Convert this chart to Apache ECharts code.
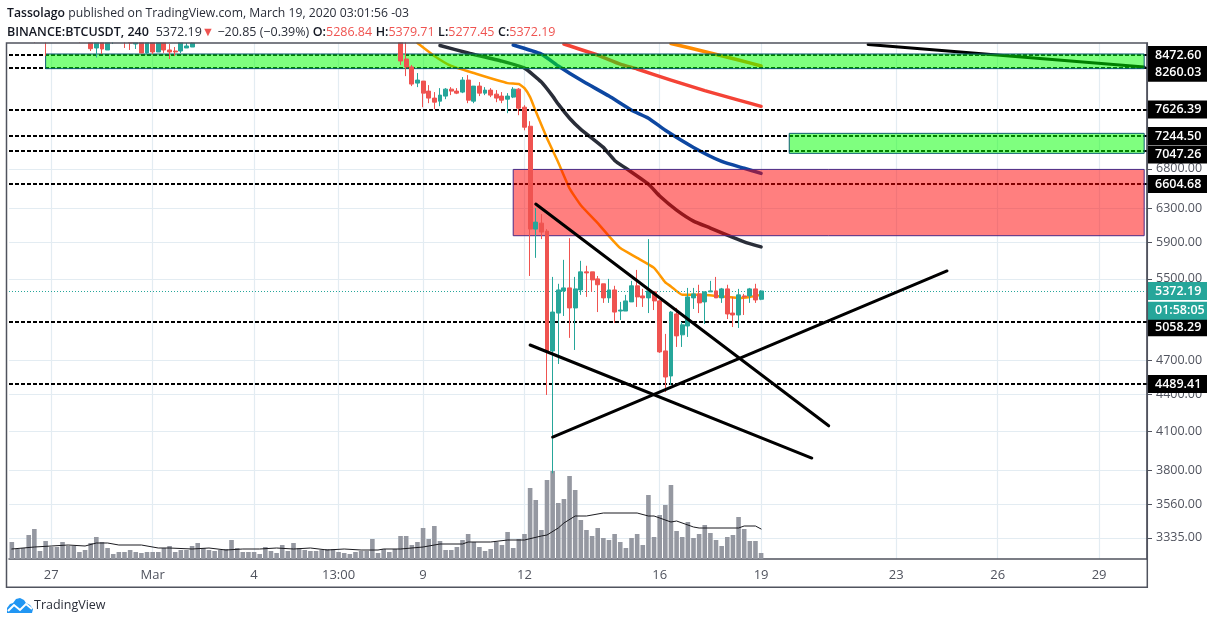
<!DOCTYPE html>
<html><head><meta charset="utf-8">
<style>html,body{margin:0;padding:0;background:#fff}#c{width:1220px;height:624px}</style>
<script src="https://cdn.jsdelivr.net/npm/echarts@6/dist/echarts.min.js"></script>
</head><body><div id="c"></div>
<script>
const BAR_COUNT = 202;
const xTickLabels = {7:'27',25:'Mar',43:'4',58:'13:00',73:'9',91:'12',115:'16',133:'19',157:'23',175:'26',193:'29'};
const priceTicks = [6800,6300,5900,5500,4700,4400,4100,3800,3560,3335];
const levels = [8472.60,8260.03,7626.39,7244.50,7047.26,6604.68,5058.29,4489.41];
const lastPrice = 5372.19;
const countdownText = '01:58:05';
const countdownAnchor = 5170;

// [bar, open, close, low, high]; bars above the visible range were not readable
const candles = [
[4,8900,8800,8671,8950],[6,8900,8800,8457,8950],[12,8900,8800,8671,8950],
[14,8800,8576,8538,8850],[15,8588,8800,8432,8850],[16,8800,8571,8489,8850],[17,8555,8800,8555,8850],
[18,8800,8850,8654,8900],[20,8850,8780,8588,8900],[21,8800,8671,8555,8850],[22,8654,8800,8571,8850],
[23,8800,8506,8506,8850],[24,8506,8800,8489,8850],[25,8800,8522,8489,8850],[26,8522,8800,8522,8850],
[27,8800,8555,8506,8850],[28,8555,8522,8407,8654],[29,8538,8522,8457,8604],[30,8538,8700,8506,8750],
[31,8588,8621,8588,8671],[32,8604,8671,8604,8720],
[69,8900,8375,8311,9000],[70,8407,8279,8134,8688],[71,8279,8010,7979,8311],[72,8025,8072,7963,8182],
[73,8056,7871,7660,8056],[74,7902,7796,7720,7994],[75,7796,7735,7631,7887],[76,7750,7841,7675,7948],
[77,7826,7932,7780,7948],[78,7932,7902,7841,7963],[79,7902,7871,7856,7948],[80,7887,8072,7871,8119],
[81,8072,7765,7720,8150],[82,7750,7979,7720,7979],[83,7979,7871,7826,8041],[84,7871,7917,7841,7963],
[85,7917,7841,7811,7948],[86,7856,7796,7735,7917],[87,7826,7765,7720,7887],[88,7780,7826,7572,7871],
[89,7811,7932,7796,7963],[90,7932,7645,7543,7948],[91,7660,7370,7326,7690],[92,7384,6054,5530,7456],
[93,6054,6136,5727,6305],[94,6124,6019,5938,6232],[95,6030,4785,4395,6054],[96,4785,5158,3778,5520],
[97,5148,5383,4666,5447],[98,5373,5404,5119,5705],[99,5404,5199,4907,5949],[100,5199,5394,4794,5520],
[101,5383,5574,5332,5694],[102,5574,5563,5311,5640],[103,5574,5488,5363,5574],[104,5499,5437,5158,5530],
[105,5447,5301,5250,5447],[106,5301,5383,5250,5499],[107,5383,5158,5050,5426],[108,5168,5178,5079,5260],
[109,5168,5270,5168,5332],[110,5260,5426,5260,5478],[111,5426,5311,5209,5595],[112,5321,5301,5209,5394],
[113,5301,5373,5148,5938],[114,5363,5270,5178,5373],[115,5270,4776,4767,5280],[116,4785,4550,4420,4945],
[117,4559,5158,4480,5168],[118,5139,4926,4822,5199],[119,4936,5032,4822,5060],[120,5021,5311,4916,5404],
[121,5301,5342,5189,5404],[122,5342,5250,5148,5437],[123,5260,5363,5040,5363],[124,5363,5373,5363,5478],
[125,5373,5301,5301,5520],[126,5301,5394,5250,5404],[127,5394,5139,5089,5437],[128,5148,5129,5011,5311],
[129,5129,5332,5002,5394],[130,5321,5311,5129,5342],[131,5321,5394,5250,5404],[132,5394,5280,5250,5447],
[133,5286.84,5372.19,5277.45,5379.71]
];

const volumes = [17,10,11,24,30,8,18,12,12,17,13,13,7,9,16,22,17,11,5,7,7,9,7,6,7,7,7,11,13,7,9,9,13,16,11,9,8,9,10,19,11,7,7,7,5,12,8,6,14,8,16,11,9,8,8,9,10,10,7,6,5,7,8,8,20,6,10,7,10,
23,23,14,17,31,20,33,18,9,9,12,19,25,17,12,8,10,17,14,27,11,20,25,71,59,29,79,88,56,60,83,69,39,29,23,31,21,19,25,17,11,21,25,14,64,22,44,54,74,28,22,37,21,25,34,26,19,13,22,24,42,30,18,18,6];
const volumeAvg = [[0,10],[4,12],[7,13],[10,14],[13,13],[15,16],[17,16],[19,14],[23,14],[26,11],[28,11],[32,10],[35,11],[38,9],[41,10],[44,10],[47,11],[50,10],[53,11],[56,9],[59,10],[62,9],[65,9],[66,10],[69,10],[73,12],[76,15],[80,15],[81,17],[85,17],[88,19],[91,19],[94,23],[95,24],[97,31],[98,36],[100,43],[102,43],[105,46],[111,46],[113,43],[114,43],[117,37],[118,38],[121,32],[122,31],[129,31],[130,33],[132,33],[133,30]];

const emaOrange = [[72,8671],[75,8457],[78,8295],[82,8182],[88,8025],[90,8010],[91,7948],[92,7811],[93,7600],[95,7214],[97,6885],[99,6550],[101,6340],[104,6124],[106,5972],[108,5836],[111,5727],[114,5617],[116,5462],[117,5420],[119,5332],[122,5332],[125,5321],[129,5301],[131,5311],[133,5332]];
const emaDark = [[76,8629],[81,8506],[87,8372],[91,8260],[94,8041],[96,7826],[97,7705],[99,7499],[101,7340],[105,7088],[107,6912],[109,6808],[113,6603],[115,6453],[118,6280],[121,6148],[124,6066],[127,5983],[130,5907],[133,5850]];
const emaBlue = [[89,8637],[94,8487],[97,8295],[101,8072],[106,7826],[110,7616],[113,7499],[116,7326],[121,7088],[126,6899],[130,6808],[133,6742]];
const emaRed = [[98,8654],[104,8471],[108,8325],[111,8246],[117,8072],[123,7909],[129,7765],[133,7673]];
const emaAmber = [[117,8663],[124,8506],[129,8391],[133,8295]];

const trendFalling = [[93,6354],[145,4141]];
const trendLower = [[92,4840],[142,3891]];
const trendRising = [[96,4052],[166,5584]];
const trendTop = [[152,8646],[201,8279]];

const zoneGreenTop = {from:6,to:201,high:8489,low:8252};
const zoneGreenMid = {from:138,to:201,high:7283,low:7007};
const zoneRed = {from:89,to:201,high:6793,low:5977};
const labelNudge = {8260.03:4.5,7047.26:4,5058.29:5};

const UP='#26a69a',DOWN='#ef5350',FONT='"Open Sans",sans-serif';
const candleData = Array.from({length:BAR_COUNT},()=>['-','-','-','-']);
candles.forEach(c=>{candleData[c[0]]=c.slice(1)});
const categories = Array.from({length:BAR_COUNT},(_,i)=>xTickLabels[i]||'');
const isTick = i=>xTickLabels[i]!==undefined;
const line=(name,data,color,width,z,extra)=>Object.assign({name,type:'line',data,yAxisIndex:0,symbol:'none',z,silent:true,animation:false,
  lineStyle:{color,width,cap:'round',join:'round'}},extra||{});
const EMA={smooth:0.15};
const zone=(z,fill,border)=>[{xAxis:z.from,yAxis:z.high,itemStyle:{color:fill,borderColor:border,borderWidth:1}},{xAxis:z.to,yAxis:z.low}];
const boxLabel=(txt,bg,dy)=>({show:true,position:'end',distance:0,formatter:txt,color:'#fff',backgroundColor:bg,fontFamily:FONT,
  fontSize:12.5,fontWeight:600,width:46,padding:[2.5,6,2.5,8],lineHeight:13,align:'left',offset:[0,dy||0]});
const richAt=s=>({b:{fontFamily:FONT,fontSize:s,fontWeight:600,color:'#131722'},n:{fontFamily:FONT,fontSize:s,fontWeight:'normal',color:'#2a2e39'},r:{fontFamily:FONT,fontSize:s,fontWeight:'normal',color:DOWN}});

const option={
 animation:false,backgroundColor:'#fff',
 title:[
  {z:200,left:2,top:3,itemGap:0,text:'{b|Tassolago} {n|published on TradingView.com, March 19, 2020 03:01:56 -03}',
   textStyle:{fontWeight:'normal',fontSize:12.2,rich:richAt(12.2)}},
  {z:200,left:2,top:21,itemGap:0,text:'{b|BINANCE:BTCUSDT, 240} {n| 5372.19}{r|▼}{n| −20.85 (−0.39%)} {b|O:}{r|5286.84} {b|H:}{r|5379.71} {b|L:}{r|5277.45} {b|C:}{r|5372.19}',
   textStyle:{fontWeight:'normal',fontSize:12.5,rich:richAt(12.5)}}
 ],
 grid:{left:9,top:43,width:1138,height:516,show:false},
 xAxis:{type:'category',data:categories,boundaryGap:true,
  axisLine:{lineStyle:{color:'#50535e',width:1.5}},
  axisTick:{alignWithLabel:true,interval:i=>isTick(i),length:4,lineStyle:{color:'#50535e'}},
  axisLabel:{interval:i=>isTick(i),color:'#50535e',fontFamily:FONT,fontSize:13,margin:10},
  splitLine:{show:true,alignWithLabel:true,interval:i=>isTick(i),lineStyle:{color:'#e3ecf2',width:1.2}}},
 yAxis:[
  {type:'log',logBase:10,position:'right',min:3202,max:8671,scale:true,
   axisLine:{show:true,onZero:false,lineStyle:{color:'#50535e',width:1.5}},
   axisTick:{show:true,length:5,customValues:priceTicks.concat(levels),lineStyle:{color:'#50535e'}},
   axisLabel:{color:'#50535e',fontFamily:FONT,fontSize:12.5,margin:9,padding:[3,0,0,0],customValues:priceTicks,formatter:v=>Number(v).toFixed(2)},
   minorTick:{show:false},minorSplitLine:{show:false},
   splitLine:{show:false}},
  {type:'value',min:0,max:516,show:false,splitLine:{show:false}}
 ],
 graphic:[
  {type:'rect',z:150,silent:true,shape:{x:0,y:0,width:1150,height:42.4},style:{fill:'#fff'}},
  {type:'rect',z:151,silent:true,shape:{x:6.5,y:43,width:1140.8,height:544.3},style:{fill:'none',stroke:'#50535e',lineWidth:1.5}},
  {type:'polygon',z:151,silent:true,shape:{points:[[7,613],[7,608],[10,604],[13,603],[16,599],[20,598],[24,600],[26,603],[30,605],[33,609],[32,613]]},style:{fill:'#2196f3'}},
  {type:'polyline',z:152,silent:true,shape:{points:[[8,611],[14,605],[20,610],[26,604],[32,609]]},style:{fill:'none',stroke:'#fff',lineWidth:2}},
  {type:'text',z:151,silent:true,x:34,y:599,style:{text:'TradingView',fontFamily:FONT,fontSize:12.5,fill:'#2a2e39'}}
 ],
 series:[
  {name:'grid',type:'line',data:[],yAxisIndex:0,z:0,silent:true,
   markLine:{z:0,silent:true,symbol:'none',animation:false,label:{show:false},lineStyle:{color:'#e3ecf2',type:'solid',width:1.2},
    data:priceTicks.map(v=>({yAxis:v}))}},
  {name:'Volume',type:'bar',data:volumes,yAxisIndex:1,barWidth:4.6,z:1,silent:true,itemStyle:{color:'#9598a1'}},
  line('VolMA',volumeAvg,'#1b1b20',1,1,{yAxisIndex:1}),
  line('EMA dark',emaDark,'#2a2e39',3.5,2,EMA),
  line('EMA blue',emaBlue,'#0d47a1',3.5,2,EMA),
  line('EMA red',emaRed,'#f44336',3.5,2,EMA),
  line('EMA amber',emaAmber,'#ff8c00',3.5,2,EMA),
  line('EMA orange',emaOrange,'#ff9800',2.5,2,EMA),
  line('Trend top',trendTop,'#000',3,2),
  {name:'levels',type:'line',data:[],yAxisIndex:0,z:3,silent:true,
   markLine:{z:3,silent:true,symbol:'none',animation:false,precision:2,
    lineStyle:{color:'#000',type:[4,2],width:2},
    data:levels.map(v=>({yAxis:v,label:boxLabel(v.toFixed(2),'#000',labelNudge[v])})).concat([
     {yAxis:lastPrice,lineStyle:{color:UP,type:[1,2],width:1},label:boxLabel(lastPrice.toFixed(2),UP)},
     {yAxis:countdownAnchor,lineStyle:{color:'rgba(0,0,0,0)',width:1,type:'solid'},label:boxLabel(countdownText,UP)}
    ])}},
  {name:'zones',type:'line',data:[],yAxisIndex:0,z:4,silent:true,
   markArea:{z:4,silent:true,animation:false,
    data:[zone(zoneGreenTop,'rgba(0,255,0,0.5)','#0f5f73'),zone(zoneGreenMid,'rgba(0,255,0,0.5)','#0f5f73'),zone(zoneRed,'rgba(255,0,0,0.5)','#4a2a86')]}},
  {name:'BTCUSDT',type:'candlestick',data:candleData,yAxisIndex:0,z:5,barWidth:4.4,silent:true,clip:true,
   itemStyle:{color:UP,color0:DOWN,borderColor:UP,borderColor0:DOWN,borderWidth:1}},
  line('Trend falling',trendFalling,'#000',3,6),
  line('Trend lower',trendLower,'#000',3,6),
  line('Trend rising',trendRising,'#000',3,6)
 ]
};
const chart=echarts.init(document.getElementById('c'),null,{renderer:'canvas',width:1220,height:624});
chart.setOption(option);
</script></body></html>
